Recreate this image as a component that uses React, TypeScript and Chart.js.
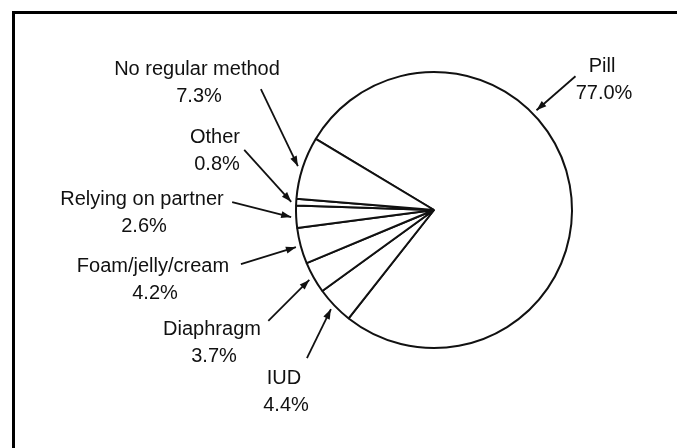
import React, { useEffect, useRef } from 'react';
import { Chart, registerables } from 'chart.js';

Chart.register(...registerables);

// ---- Data ----
const categories = [
  'Pill',
  'IUD',
  'Diaphragm',
  'Foam/jelly/cream',
  'Relying on partner',
  'Other',
  'No regular method',
];
const shares = [77.0, 4.4, 3.7, 4.2, 2.6, 0.8, 7.3];
const shareLabels = ['77.0%', '4.4%', '3.7%', '4.2%', '2.6%', '0.8%', '7.3%'];

// ---- Annotation layout (offsets from pie centre / arrow head) ----
const labelOffsets: [number, number][] = [
  [168, -144],
  [-150, 168],
  [-222, 119],
  [-281, 56],
  [-292, -11],
  [-219, -73],
  [-237, -141],
];
const arrowTails: [number, number][] = [
  [39, -34],
  [-24, 49],
  [-41, 41],
  [-55, 17],
  [-59, -15],
  [-47, -52],
  [-37, -77],
];
const arrowFracs = [0.378, 0.5, 0.5, 0.5, 0.5, 0.5, 0.5];

const FONT = '20px "Liberation Sans", Arial, Helvetica, sans-serif';
const LINE_GAP = 27;

const annotationPlugin = {
  id: 'pieAnnotations',
  afterDatasetsDraw(chart: any) {
    const ctx = chart.ctx as CanvasRenderingContext2D;
    const meta = chart.getDatasetMeta(0);
    ctx.save();
    ctx.fillStyle = '#111';
    ctx.strokeStyle = '#111';
    ctx.font = FONT;
    ctx.textAlign = 'center';
    ctx.textBaseline = 'middle';
    meta.data.forEach((arc: any, i: number) => {
      const { x, y, startAngle, endAngle, outerRadius } = arc;
      const a = startAngle + (endAngle - startAngle) * arrowFracs[i];
      const hr = outerRadius + 5;
      const hx = x + Math.cos(a) * hr;
      const hy = y + Math.sin(a) * hr;
      const tx = hx + arrowTails[i][0];
      const ty = hy + arrowTails[i][1];
      // arrow shaft
      ctx.lineWidth = 1.8;
      ctx.beginPath();
      ctx.moveTo(tx, ty);
      ctx.lineTo(hx, hy);
      ctx.stroke();
      // arrow head
      const ang = Math.atan2(hy - ty, hx - tx);
      const len = 10;
      const hw = 3.5;
      const bx = hx - Math.cos(ang) * len;
      const by = hy - Math.sin(ang) * len;
      ctx.beginPath();
      ctx.moveTo(hx, hy);
      ctx.lineTo(bx + Math.cos(ang + Math.PI / 2) * hw, by + Math.sin(ang + Math.PI / 2) * hw);
      ctx.lineTo(bx - Math.cos(ang + Math.PI / 2) * hw, by - Math.sin(ang + Math.PI / 2) * hw);
      ctx.closePath();
      ctx.fill();
      // labels
      const lx = x + labelOffsets[i][0];
      const ly = y + labelOffsets[i][1];
      ctx.fillText(categories[i], lx, ly);
      ctx.fillText(shareLabels[i], lx + 2, ly + LINE_GAP);
    });
    ctx.restore();
  },
};

export default function App() {
  const canvasRef = useRef<HTMLCanvasElement | null>(null);

  useEffect(() => {
    document.body.style.margin = '0';
    const canvas = canvasRef.current;
    if (!canvas) return;
    const chart = new Chart(canvas, {
      type: 'pie',
      data: {
        labels: categories,
        datasets: [
          {
            data: shares,
            backgroundColor: '#ffffff',
            borderColor: '#111111',
            borderWidth: 2,
          },
        ],
      },
      options: {
        animation: false,
        responsive: false,
        devicePixelRatio: 1,
        rotation: 301,
        layout: { padding: { left: 295, right: 104, top: 71, bottom: 99 } },
        plugins: {
          legend: { display: false },
          tooltip: { enabled: false },
        },
      },
      plugins: [annotationPlugin],
    });
    return () => chart.destroy();
  }, []);

  return (
    <div
      style={{
        position: 'fixed',
        left: 0,
        top: 0,
        width: 677,
        height: 448,
        overflow: 'hidden',
        background: '#fff',
      }}
    >
      <div
        style={{
          position: 'absolute',
          left: 12,
          top: 11,
          width: 800,
          height: 600,
          borderTop: '3px solid #000',
          borderLeft: '3px solid #000',
        }}
      />
      <canvas
        ref={canvasRef}
        width={677}
        height={448}
        style={{ position: 'absolute', left: 0, top: 0 }}
      />
    </div>
  );
}
